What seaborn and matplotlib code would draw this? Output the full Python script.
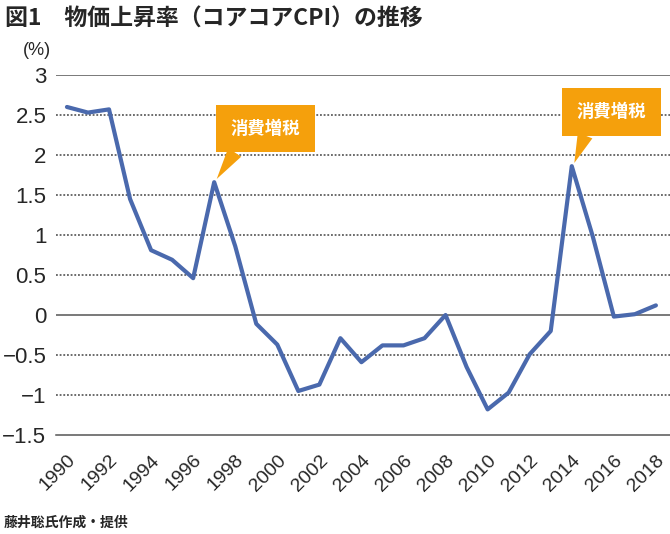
import numpy as np
import pandas as pd
import matplotlib
matplotlib.use("Agg")
import matplotlib.pyplot as plt
import seaborn as sns

sns.set_style("white")
plt.rcParams['font.family'] = ['Liberation Sans Narrow', 'Liberation Sans', 'Noto Sans CJK JP', 'DejaVu Sans']

# コアコアCPI 上昇率 (%)
years = list(range(1990, 2019))
cpi = [2.60, 2.53, 2.57, 1.45, 0.81, 0.69, 0.46, 1.66, 0.86, -0.11,
       -0.37, -0.95, -0.87, -0.29, -0.59, -0.38, -0.38, -0.29, 0.00, -0.65,
       -1.18, -0.97, -0.49, -0.20, 1.86, 0.98, -0.02, 0.01, 0.12]
yticks = [3, 2.5, 2, 1.5, 1, 0.5, 0, -0.5, -1, -1.5]
ytick_labels = ["3", "2.5", "2", "1.5", "1", "0.5", "0", "−0.5", "−1", "−1.5"]
xticks = list(range(1990, 2019, 2))
notes = ["消費増税", "消費増税"]
note_years = [1997, 2014]

df = pd.DataFrame({"year": years, "cpi": cpi})

line_color = "#4a69ad"
orange = "#f5a00c"
grid_color = "#555555"
cjk = ['Noto Sans CJK JP', 'DejaVu Sans']

fig = plt.figure(figsize=(6.7, 5.34), dpi=100)
ax = fig.add_axes([0.0836, 0.1854, 0.9164, 0.6742])

sns.lineplot(data=df, x="year", y="cpi", color=line_color, lw=3.0, ax=ax, zorder=3)

# grid
for v in yticks:
    if v in (3, 0):
        ax.axhline(v, color=grid_color, lw=1.1, zorder=1)
    elif v != -1.5:
        ax.axhline(v, color="#444444", lw=1.1, ls=(0, (1.2, 1.2)), zorder=1)

ax.set_xlim(1989.48, 2018.67)
ax.set_ylim(-1.5, 3)
ax.set_yticks(yticks)
ax.set_yticklabels(ytick_labels, fontsize=16)
ax.set_xticks(xticks)
ax.set_xticklabels([str(x) for x in xticks], fontsize=14, rotation=45,
                   ha="right", rotation_mode="anchor")
ax.set_xlabel("")
ax.set_ylabel("")
for s in ["top", "right", "left"]:
    ax.spines[s].set_visible(False)
ax.spines["bottom"].set_color(grid_color)
ax.spines["bottom"].set_linewidth(1.1)
ax.tick_params(axis="x", direction="out", length=5, width=1, color=grid_color, pad=7)
ax.tick_params(axis="y", length=0, pad=7)

# callouts
text_pos = [(1999.44, 2.33), (2015.9, 2.54)]
for label, yr, (tx, ty) in zip(notes, note_years, text_pos):
    yv = cpi[years.index(yr)]
    ax.annotate(label, xy=(yr + 0.12, yv + 0.04), xytext=(tx, ty),
                ha="center", va="center", color="white", fontsize=12.5,
                fontweight="bold", family=cjk, zorder=5,
                bbox=dict(boxstyle="square,pad=0.85", fc=orange, ec="none"),
                arrowprops=dict(arrowstyle="wedge,tail_width=0.9,shrink_factor=0.5",
                                fc=orange, ec="none", relpos=(0.2, 0.0),
                                shrinkA=0, shrinkB=0))

fig.text(0.008, 0.985, "図1　物価上昇率（コアコアCPI）の推移", fontsize=16.5,
         fontweight="bold", family=cjk, va="top", ha="left")
fig.text(0.034, 0.905, "(%)", fontsize=13, va="center", ha="left")
fig.text(0.006, 0.022, "藤井聡氏作成・提供", fontsize=10, fontweight="bold",
         family=cjk, va="center", ha="left")

fig.savefig("out.png", dpi=100)
